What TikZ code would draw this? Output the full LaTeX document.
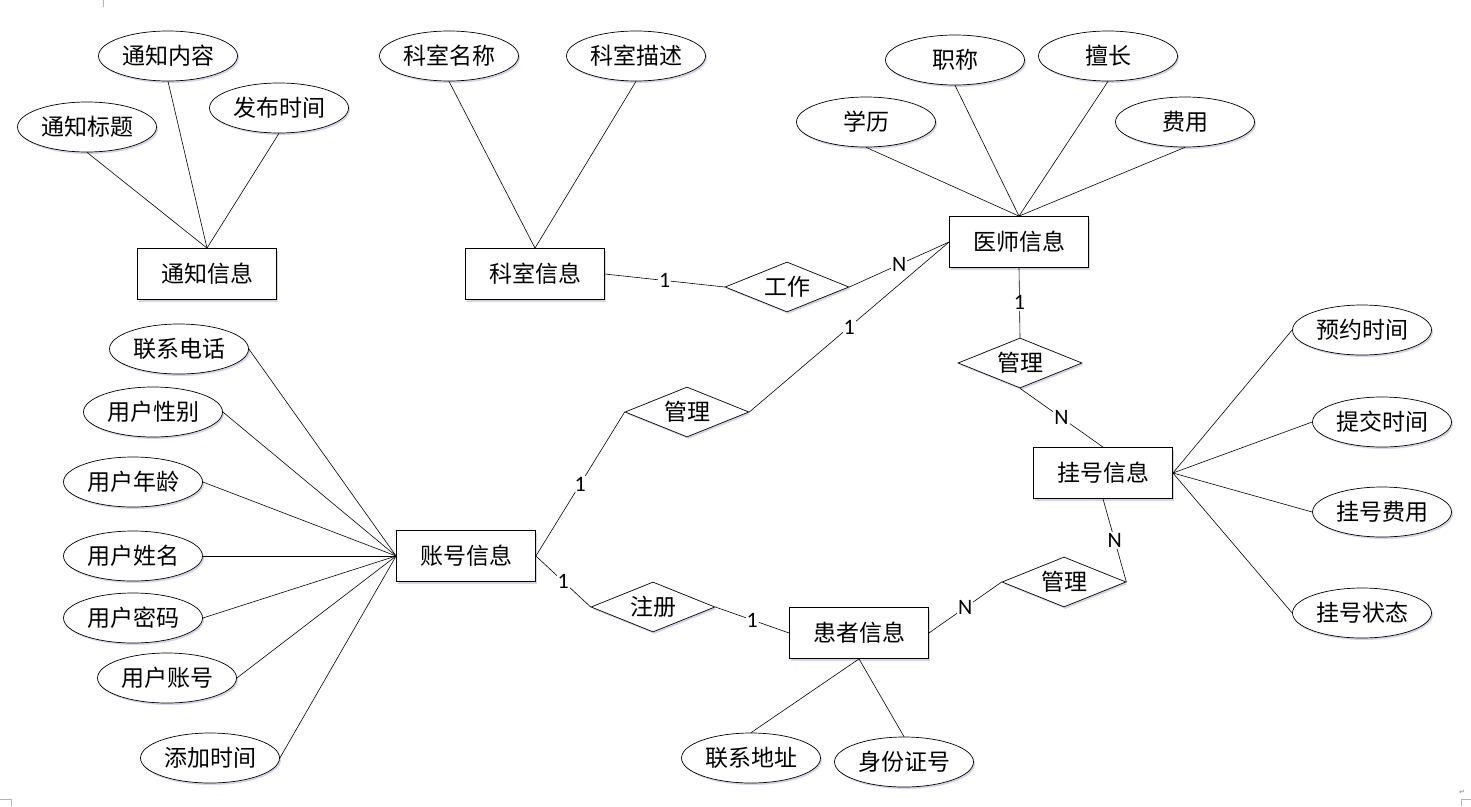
\documentclass[tikz,border=0pt]{standalone}
\usepackage{fontspec}
\setmainfont{Noto Sans CJK SC}
\newfontfamily\numfont{Carlito}
\newfontfamily\symfont{DejaVu Sans}
\usetikzlibrary{shapes.geometric,shadows}

\begin{document}
\begin{tikzpicture}[
    x=1pt, y=-1pt,
    entity/.style={rectangle, draw, line width=0.8pt, minimum width=139pt, minimum height=51pt, inner sep=0pt, fill=white, font=\fontsize{23}{27}\selectfont, drop shadow={shadow xshift=1.5pt, shadow yshift=-2pt, fill=blue!30!gray, opacity=0.25}},
    attr/.style={ellipse, draw, line width=0.7pt, minimum width=139pt, minimum height=50pt, inner sep=0pt, fill=white, font=\fontsize{23}{27}\selectfont, drop shadow={shadow xshift=1.5pt, shadow yshift=-2pt, fill=blue!30!gray, opacity=0.25}},
    rel/.style={diamond, draw, line width=0.7pt, aspect=2.5, minimum width=124pt, minimum height=50pt, inner sep=0pt, fill=white, font=\fontsize{23}{27}\selectfont, drop shadow={shadow xshift=1.5pt, shadow yshift=-2pt, fill=blue!30!gray, opacity=0.25}},
    link/.style={line width=0.6pt},
    card/.style={fill=white, inner sep=1pt, font=\numfont\fontsize{22}{22}\selectfont}
]
\useasboundingbox (0,0) rectangle (1471,806);

% Page marks
\draw[gray!60, line width=0.6pt] (103,0) -- (103,7);
\draw[gray!60, line width=0.6pt] (0,799) -- (11,799) -- (11,806);
\draw[gray!60, line width=0.6pt] (1471,799) -- (1461,799) -- (1461,806);
\node[gray, font=\symfont\fontsize{7}{7}\selectfont, inner sep=0pt] (ret) at (1462,792) {↵};

% Notice
\node[entity] (notice) at (207,274) {通知信息};
\node[attr] (ntitle) at (87,127) {通知标题};
\node[attr] (ncontent) at (168,56) {通知内容};
\node[attr] (ntime) at (279,108) {发布时间};

% Department
\node[entity] (dept) at (535,274) {科室信息};
\node[attr] (dname) at (449,56) {科室名称};
\node[attr] (ddesc) at (636,56) {科室描述};

% Doctor
\node[entity] (doctor) at (1019,242) {医师信息};
\node[attr] (edu) at (866,122) {学历};
\node[attr] (rank) at (955,60) {职称};
\node[attr] (skill) at (1108,56) {擅长};
\node[attr] (fee) at (1185,122) {费用};

% Account
\node[entity] (account) at (466,556) {账号信息};
\node[attr] (phone) at (179,349) {联系电话};
\node[attr] (gender) at (153,412) {用户性别};
\node[attr] (age) at (133,482) {用户年龄};
\node[attr] (uname) at (133,556) {用户姓名};
\node[attr] (pwd) at (133,618) {用户密码};
\node[attr] (uid) at (167,678) {用户账号};
\node[attr] (addtime) at (210,758) {添加时间};

% Registration
\node[entity] (reg) at (1103,473) {挂号信息};
\node[attr] (appt) at (1362,330) {预约时间};
\node[attr] (submit) at (1382,422) {提交时间};
\node[attr] (regfee) at (1382,512) {挂号费用};
\node[attr] (regstate) at (1362,613) {挂号状态};

% Patient
\node[entity] (patient) at (859,633) {患者信息};
\node[attr] (addr) at (751,758) {联系地址};
\node[attr] (idno) at (904,762) {身份证号};

% Relations
\node[rel] (work) at (787,287) {工作};
\node[rel] (mgracc) at (687,412) {管理};
\node[rel] (mgrdoc) at (1020,363) {管理};
\node[rel] (mgrpat) at (1064,582) {管理};
\node[rel] (signup) at (653,607) {注册};

% Attribute lines
\draw[link] (ntitle.south) -- (notice.north);
\draw[link] (ncontent.south) -- (notice.north);
\draw[link] (ntime.south) -- (notice.north);
\draw[link] (dname.south) -- (dept.north);
\draw[link] (ddesc.south) -- (dept.north);
\draw[link] (edu.south) -- (doctor.north);
\draw[link] (rank.south) -- (doctor.north);
\draw[link] (skill.south) -- (doctor.north);
\draw[link] (fee.south) -- (doctor.north);
\draw[link] (phone.east) -- (account.west);
\draw[link] (gender.east) -- (account.west);
\draw[link] (age.east) -- (account.west);
\draw[link] (uname.east) -- (account.west);
\draw[link] (pwd.east) -- (account.west);
\draw[link] (uid.east) -- (account.west);
\draw[link] (addtime.east) -- (account.west);
\draw[link] (reg.east) -- (appt.west);
\draw[link] (reg.east) -- (submit.west);
\draw[link] (reg.east) -- (regfee.west);
\draw[link] (reg.east) -- (regstate.west);
\draw[link] (patient.south) -- (addr.north);
\draw[link] (patient.south) -- (idno.north);

% Relation lines
\draw[link] (dept.east) -- node[card] {1} (work.west);
\draw[link] (work.east) -- node[card] {N} (doctor.west);
\draw[link] (mgracc.east) -- node[card] {1} (doctor.west);
\draw[link] (account.east) -- node[card] {1} (mgracc.west);
\draw[link] (account.east) -- node[card] {1} (signup.west);
\draw[link] (signup.east) -- node[card] {1} (patient.west);
\draw[link] (doctor.south) -- node[card] {1} (mgrdoc.north);
\draw[link] (mgrdoc.south) -- node[card] {N} (reg.north);
\draw[link] (reg.south) -- node[card] {N} (mgrpat.east);
\draw[link] (patient.east) -- node[card] {N} (mgrpat.west);

\end{tikzpicture}
\end{document}
